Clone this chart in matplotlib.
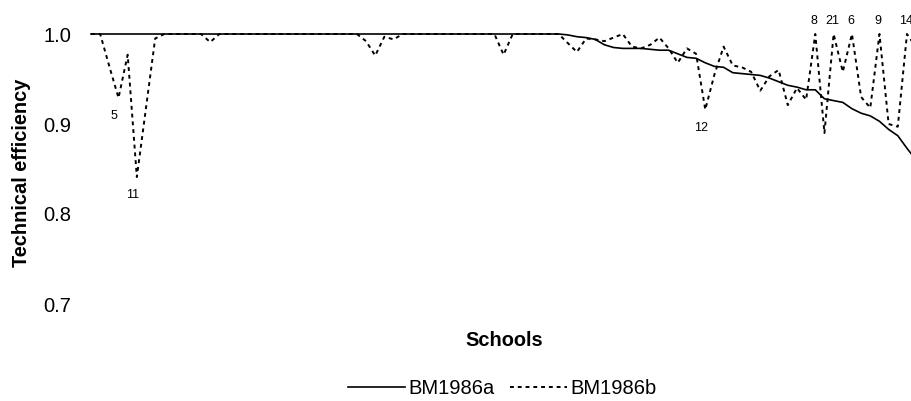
import matplotlib.pyplot as plt
import numpy as np

plt.rcParams['font.family'] = ['Liberation Sans', 'DejaVu Sans']

# Hiệu quả kỹ thuật theo trường
bm1986a = [
    1.0, 1.0, 1.0, 1.0, 1.0, 1.0, 1.0, 1.0, 1.0, 1.0,
    1.0, 1.0, 1.0, 1.0, 1.0, 1.0, 1.0, 1.0, 1.0, 1.0,
    1.0, 1.0, 1.0, 1.0, 1.0, 1.0, 1.0, 1.0, 1.0, 1.0,
    1.0, 1.0, 1.0, 1.0, 1.0, 1.0, 1.0, 1.0, 1.0, 1.0,
    1.0, 1.0, 1.0, 1.0, 1.0, 1.0, 1.0, 1.0, 1.0, 1.0,
    1.0, 1.0, 0.999, 0.997, 0.996, 0.994, 0.988, 0.985, 0.984, 0.984,
    0.984, 0.983, 0.982, 0.982, 0.978, 0.974, 0.973, 0.968, 0.964, 0.963,
    0.957, 0.956, 0.955, 0.954, 0.951, 0.947, 0.943, 0.941, 0.938, 0.938,
    0.928, 0.926, 0.924, 0.917, 0.912, 0.909, 0.903, 0.894, 0.887, 0.873,
    0.860,
]
bm1986b = [
    1.0, 1.0, 0.964, 0.929, 0.977, 0.841, 0.918, 0.995, 1.0, 1.0,
    1.0, 1.0, 1.0, 0.991, 1.0, 1.0, 1.0, 1.0, 1.0, 1.0,
    1.0, 1.0, 1.0, 1.0, 1.0, 1.0, 1.0, 1.0, 1.0, 1.0,
    0.992, 0.976, 0.997, 0.994, 1.0, 1.0, 1.0, 1.0, 1.0, 1.0,
    1.0, 1.0, 1.0, 1.0, 1.0, 0.977, 1.0, 1.0, 1.0, 1.0,
    1.0, 1.0, 0.990, 0.980, 0.995, 0.994, 0.992, 0.996, 1.0, 0.986,
    0.984, 0.988, 0.996, 0.984, 0.968, 0.984, 0.978, 0.916, 0.955, 0.986,
    0.965, 0.963, 0.958, 0.937, 0.953, 0.960, 0.921, 0.940, 0.927, 1.0,
    0.890, 1.0, 0.958, 1.0, 0.930, 0.918, 1.0, 0.900, 0.897, 1.0,
    0.985,
]

# nhãn dữ liệu: (vị trí, chữ, phía)
nhan = [(3, '5', 'duoi'), (5, '11', 'duoi'), (67, '12', 'duoi'),
        (79, '8', 'tren'), (81, '21', 'tren'), (83, '6', 'tren'),
        (86, '9', 'tren'), (89, '14', 'tren')]

yticks = [0.7, 0.8, 0.9, 1.0]

x = np.arange(len(bm1986a))

fig = plt.figure(figsize=(9.11, 4.01), dpi=100)
ax = fig.add_axes([91/911, 97/401, 820/911, 270/401])

ax.plot(x, bm1986a, color='black', lw=1.2, label='BM1986a', clip_on=False)
ax.plot(x, bm1986b, color='black', lw=1.4, dashes=(2, 2), label='BM1986b', clip_on=False)

for i, s, phia in nhan:
    if phia == 'duoi':
        ax.annotate(s, (x[i], bm1986b[i]), xytext=(-3, -13), textcoords='offset points',
                    ha='center', va='center', fontsize=9)
    else:
        ax.annotate(s, (x[i], bm1986b[i]), xytext=(-1, 9.5), textcoords='offset points',
                    ha='center', va='center', fontsize=9)

ax.set_xlim(0, 89.44)
ax.set_ylim(0.7, 1.0)
ax.set_yticks(yticks)
ax.set_yticklabels([f'{v:.1f}' for v in yticks], fontsize=14.5)
ax.set_xticks([])
ax.tick_params(axis='y', length=0, pad=14)
for sp in ax.spines.values():
    sp.set_visible(False)

fig.text(22/911, 1 - 173/401, 'Technical efficiency', rotation=90, ha='center', va='center',
         fontsize=14.4, fontweight='bold')
fig.text(504/911, 1 - 340/401, 'Schools', ha='center', va='center',
         fontsize=14.4, fontweight='bold')

fig.legend(loc='center', bbox_to_anchor=(502/911, 1 - 389/401), ncol=2, frameon=False,
           fontsize=14.5, handlelength=2.85, handletextpad=0.15, columnspacing=0.75)

fig.savefig('out.png', dpi=100)
